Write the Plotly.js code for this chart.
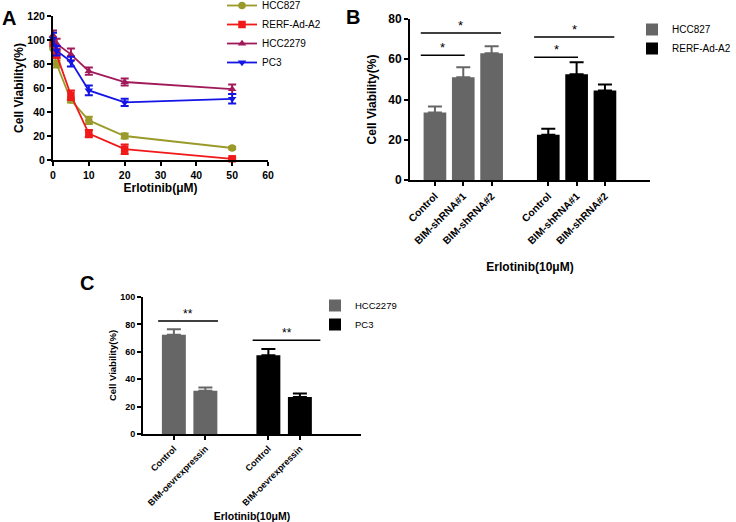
<!DOCTYPE html>
<html>
<head>
<meta charset="utf-8">
<script src="https://cdn.plot.ly/plotly-3.0.1.min.js"></script>
<style>html,body{margin:0;padding:0;background:#fff;overflow:hidden}#chart{width:736px;height:522px}</style>
</head>
<body>
<div id="chart"></div>
<script>
// ---------- Panel A data ----------
const doses = [0, 1, 5, 10, 20, 50];
const hcc827A = [93, 80, 50, 33, 20, 10];
const hcc827AErr = [3, 3, 2, 3, 2, 1];
const rerfA = [97, 88, 54, 22, 9, 1];
const rerfAErr = [4, 3, 4, 3, 4, 1];
const hcc2279A = [104, 97, 88, 74, 65, 59];
const hcc2279AErr = [4, 4, 5, 3, 3, 4];
const pc3A = [101, 91, 82, 58, 48, 51];
const pc3AErr = [5, 4, 4, 4, 3, 4];
const seriesA = ["HCC827", "RERF-Ad-A2", "HCC2279", "PC3"];

// ---------- Panel B data ----------
const catsB = ["HCC827|Control", "HCC827|BIM-shRNA#1", "HCC827|BIM-shRNA#2", "gap", "RERF|Control", "RERF|BIM-shRNA#1", "RERF|BIM-shRNA#2"];
const labelsB = ["Control", "BIM-shRNA#1", "BIM-shRNA#2", "", "Control", "BIM-shRNA#1", "BIM-shRNA#2"];
const hcc827BCats = ["HCC827|Control", "HCC827|BIM-shRNA#1", "HCC827|BIM-shRNA#2"];
const hcc827B = [33.5, 51, 63];
const hcc827BErr = [3, 5, 3.5];
const rerfBCats = ["RERF|Control", "RERF|BIM-shRNA#1", "RERF|BIM-shRNA#2"];
const rerfB = [22.5, 52.5, 44.5];
const rerfBErr = [3, 6, 3];
// significance: [from, to, y, label, endPad]
const sigB = [
  ["HCC827|Control", "HCC827|BIM-shRNA#1", 62, "*", 0.05],
  ["HCC827|Control", "HCC827|BIM-shRNA#2", 73, "*", 0.33],
  ["RERF|Control", "RERF|BIM-shRNA#1", 61, "*", 0.05],
  ["RERF|Control", "RERF|BIM-shRNA#2", 71, "*", 0.33]
];

// ---------- Panel C data ----------
const catsC = ["HCC2279|Control", "HCC2279|BIM-oevrexpressin", "gap", "PC3|Control", "PC3|BIM-oevrexpressin"];
const labelsC = ["Control", "BIM-oevrexpressin", "", "Control", "BIM-oevrexpressin"];
const hcc2279CCats = ["HCC2279|Control", "HCC2279|BIM-oevrexpressin"];
const hcc2279C = [72.5, 31.5];
const hcc2279CErr = [4, 2.5];
const pc3CCats = ["PC3|Control", "PC3|BIM-oevrexpressin"];
const pc3C = [57.5, 27];
const pc3CErr = [4.5, 2.5];
const sigC = [
  ["HCC2279|Control", "HCC2279|BIM-oevrexpressin", 82.5, "**", 0.4],
  ["PC3|Control", "PC3|BIM-oevrexpressin", 68.5, "**", 0.65]
];

const FONT = "Liberation Sans, Arial, sans-serif";
const W = 736, H = 522;
const fx = p => p / W;
const fy = p => 1 - p / H;

const colorsA = ["#9a9a2a", "#f01818", "#a01a5a", "#1414e6"];
const symbolsA = ["circle", "square", "triangle-up", "triangle-down"];
const valsA = [hcc827A, rerfA, hcc2279A, pc3A];
const errsA = [hcc827AErr, rerfAErr, hcc2279AErr, pc3AErr];

const traces = [];
seriesA.forEach((name, i) => {
  traces.push({
    type: "scatter", mode: "lines+markers", name: name,
    x: doses, y: valsA[i], xaxis: "x", yaxis: "y", legend: "legend",
    cliponaxis: false,
    line: {color: colorsA[i], width: 1.8},
    marker: {symbol: symbolsA[i], size: 7.5, color: colorsA[i]},
    error_y: {type: "data", array: errsA[i], color: colorsA[i], thickness: 2, width: 4}
  });
});

const GRAY = "#666666";
traces.push({
  type: "bar", name: "HCC827", x: hcc827BCats, y: hcc827B, xaxis: "x2", yaxis: "y2", legend: "legend2",
  width: 0.8, marker: {color: GRAY},
  error_y: {type: "data", symmetric: false, array: hcc827BErr, arrayminus: hcc827BErr.map(() => 0), color: GRAY, thickness: 2, width: 7}
});
traces.push({
  type: "bar", name: "RERF-Ad-A2", x: rerfBCats, y: rerfB, xaxis: "x2", yaxis: "y2", legend: "legend2",
  width: 0.8, marker: {color: "#000000"},
  error_y: {type: "data", symmetric: false, array: rerfBErr, arrayminus: rerfBErr.map(() => 0), color: "#000000", thickness: 2, width: 7}
});
traces.push({
  type: "bar", name: "HCC2279", x: hcc2279CCats, y: hcc2279C, xaxis: "x3", yaxis: "y3", legend: "legend3",
  width: 0.76, marker: {color: GRAY},
  error_y: {type: "data", symmetric: false, array: hcc2279CErr, arrayminus: hcc2279CErr.map(() => 0), color: GRAY, thickness: 2, width: 7}
});
traces.push({
  type: "bar", name: "PC3", x: pc3CCats, y: pc3C, xaxis: "x3", yaxis: "y3", legend: "legend3",
  width: 0.76, marker: {color: "#000000"},
  error_y: {type: "data", symmetric: false, array: pc3CErr, arrayminus: pc3CErr.map(() => 0), color: "#000000", thickness: 2, width: 7}
});

const shapes = [];
const annotations = [];
function addSig(list, cats, xa, ya, fs) {
  list.forEach(s => {
    const i0 = cats.indexOf(s[0]), i1 = cats.indexOf(s[1]);
    shapes.push({type: "line", xref: xa, yref: ya, x0: i0 - 0.5, x1: i1 + s[4], y0: s[2], y1: s[2], line: {color: "#000", width: 1.5}});
    annotations.push({xref: xa, yref: ya, x: (i0 - 0.5 + i1 + s[4]) / 2, y: s[2], text: s[3], showarrow: false,
      yanchor: "bottom", yshift: -2, font: {family: FONT, size: fs, color: "#000"}});
  });
}
addSig(sigB, catsB, "x2", "y2", 13);
addSig(sigC, catsC, "x3", "y3", 12);

[["A", 9, 18], ["B", 353, 17], ["C", 87, 283]].forEach(p => {
  annotations.push({xref: "paper", yref: "paper", x: fx(p[1]), y: fy(p[2]), text: "<b>" + p[0] + "</b>", showarrow: false,
    xanchor: "center", yanchor: "middle", font: {family: FONT, size: 20, color: "#000"}});
});

const bold = (s) => ({family: FONT, size: s, color: "#000", weight: "bold"});
const axBase = {showgrid: false, zeroline: false, showline: true, linecolor: "#000", linewidth: 2,
  ticks: "outside", ticklen: 4, tickwidth: 2, tickcolor: "#000", fixedrange: true, automargin: false};

const layout = {
  width: W, height: H, margin: {l: 0, r: 0, t: 0, b: 0, autoexpand: false}, paper_bgcolor: "#fff", plot_bgcolor: "rgba(0,0,0,0)",
  font: {family: FONT, color: "#000"},
  xaxis: Object.assign({}, axBase, {domain: [fx(53), fx(268)], anchor: "y", range: [0, 60], dtick: 10,
    tickfont: bold(10.5), title: {text: "Erlotinib(μM)", font: bold(12), standoff: 4}}),
  yaxis: Object.assign({}, axBase, {domain: [fy(160), fy(16)], anchor: "x", range: [0, 120], dtick: 20,
    tickfont: bold(10.5), title: {text: "Cell Viability(%)", font: bold(12), standoff: 1}}),
  xaxis2: Object.assign({}, axBase, {domain: [fx(410), fx(650)], anchor: "y2", type: "category",
    categoryorder: "array", categoryarray: catsB, range: [-0.88, 7.59],
    tickvals: catsB.filter((c, i) => labelsB[i] !== ""), ticktext: labelsB.filter(l => l !== ""), tickangle: -45,
    tickfont: bold(10.3), title: {text: "Erlotinib(10μM)", font: bold(12), standoff: 17}}),
  yaxis2: Object.assign({}, axBase, {domain: [fy(180), fy(19)], anchor: "x2", range: [0, 80], dtick: 20,
    tickfont: bold(12), title: {text: "Cell Viability(%)", font: bold(12), standoff: 9}}),
  xaxis3: Object.assign({}, axBase, {domain: [fx(143), fx(361)], anchor: "y3", type: "category",
    categoryorder: "array", categoryarray: catsC, range: [-0.98, 5.94],
    tickvals: catsC.filter((c, i) => labelsC[i] !== ""), ticktext: labelsC.filter(l => l !== ""), tickangle: -45,
    tickfont: bold(9), title: {text: "Erlotinib(10μM)", font: bold(10.5), standoff: 16}}),
  yaxis3: Object.assign({}, axBase, {domain: [fy(434), fy(297)], anchor: "x3", range: [0, 100], dtick: 20,
    tickfont: bold(9), title: {text: "Cell Viability(%)", font: bold(9.5), standoff: 2}}),
  barmode: "overlay",
  showlegend: true,
  legend: {x: fx(222), y: fy(-9), xanchor: "left", yanchor: "top", bgcolor: "rgba(0,0,0,0)",
    font: {family: FONT, size: 10, color: "#000"}, itemwidth: 30},
  legend2: {x: fx(632), y: fy(15), xanchor: "left", yanchor: "top", bgcolor: "rgba(0,0,0,0)",
    font: {family: FONT, size: 10, color: "#000"}},
  legend3: {x: fx(315), y: fy(291), xanchor: "left", yanchor: "top", bgcolor: "rgba(0,0,0,0)",
    font: {family: FONT, size: 9.5, color: "#000"}},
  shapes: shapes,
  annotations: annotations
};

Plotly.newPlot("chart", traces, layout, {staticPlot: true, displayModeBar: false});
</script>
</body>
</html>
